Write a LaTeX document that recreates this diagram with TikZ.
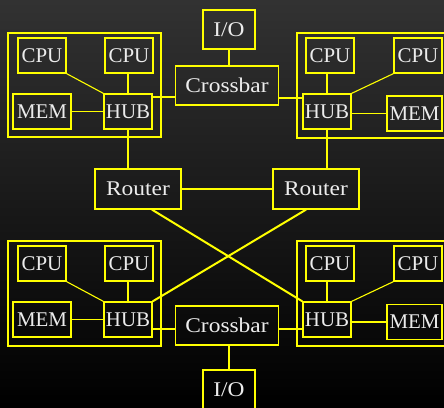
\documentclass[tikz,border=0pt]{standalone}
\usepackage{fontspec}
\setmainfont{Liberation Serif}
\newfontfamily\wideserif{Liberation Serif}[FakeStretch=1.12]
\usepackage{tikz}
\usetikzlibrary{
    positioning,
    calc
}
\definecolor{boY}{RGB}{255,255,0}
\definecolor{txtC}{RGB}{236,236,236}
\definecolor{bgTop}{RGB}{50,50,50}
\definecolor{bgBot}{RGB}{0,0,0}
\tikzset{
  unit/.style     = {draw=boY, line width=1.3bp, minimum width=48bp,
                     minimum height=35bp, inner sep=0pt, text=txtC,
                     font=\fontsize{21}{24}\selectfont},
  switchbox/.style = {draw=boY, line width=1.3bp, minimum height=39bp,
                     inner sep=0pt, text=txtC,
                     font=\wideserif\fontsize{21}{24}\selectfont},
  board/.style    = {draw=boY, line width=2.2bp},
  link/.style     = {draw=boY, line width=1.1bp},
  bus/.style      = {draw=boY, line width=2bp}
}

\begin{document}
\begin{tikzpicture}[x=1bp, y=-1bp]

  %% -- background ---------------------------------------------
  \useasboundingbox (0,0) rectangle (444,407);
  \shade[top color=bgTop, bottom color=bgBot] (0,0) rectangle (444,407);
  \clip (0,0) rectangle (444,407);

  %% -- boards ---------------------------------------------------
  \draw[board] (8,33)   rectangle (161,137);
  \draw[board] (297,33) rectangle (450,138);
  \draw[board] (8,241)  rectangle (161,346);
  \draw[board] (297,241) rectangle (450,346);

  %% -- top left node --------------------------------------------
  \node[unit] (cpuA) at (42,55.5)   {CPU};
  \node[unit] (cpuB) at (129,55.5)  {CPU};
  \node[unit, minimum width=58bp] (memA) at (42,111.5) {MEM};
  \node[unit] (hubA) at (128,111.5) {HUB};

  %% -- top right node -------------------------------------------
  \node[unit] (cpuC) at (330,55.5)  {CPU};
  \node[unit] (cpuD) at (418,55.5)  {CPU};
  \node[unit] (hubB) at (327,111.5) {HUB};
  \node[unit, minimum width=55bp] (memB) at (414.5,113.5) {MEM};

  %% -- bottom left node -----------------------------------------
  \node[unit] (cpuE) at (42,263.5)  {CPU};
  \node[unit] (cpuF) at (129,263.5) {CPU};
  \node[unit, minimum width=58bp] (memC) at (42,319.5) {MEM};
  \node[unit] (hubC) at (128,319.5) {HUB};

  %% -- bottom right node ----------------------------------------
  \node[unit] (cpuG) at (330,263.5) {CPU};
  \node[unit] (cpuH) at (418,263.5) {CPU};
  \node[unit] (hubD) at (327,319.5) {HUB};
  \node[unit, minimum width=55bp] (memD) at (414.5,322) {MEM};

  %% -- crossbars, I/O, routers ----------------------------------
  \node[switchbox, minimum width=103bp] (xbarT) at (227,85.5)  {Crossbar};
  \node[switchbox, minimum width=52bp]  (ioT)   at (229,29.5)  {I/O};
  \node[switchbox, minimum width=103bp] (xbarB) at (227,325.5) {Crossbar};
  \node[switchbox, minimum width=52bp]  (ioB)   at (229,389.5) {I/O};
  \node[switchbox, minimum width=86bp, minimum height=40bp] (routerL) at (138,189) {Router};
  \node[switchbox, minimum width=86bp, minimum height=40bp] (routerR) at (316,189) {Router};

  %% -- links inside the boards ----------------------------------
  \draw[link] (cpuA.south east) -- (hubA.north west);
  \draw[link] (hubA.north) -- (hubA.north |- cpuB.south);
  \draw[link] (memA.east) -- (memA.east -| hubA.west);
  \draw[link] (hubB.north) -- (hubB.north |- cpuC.south);
  \draw[link] (cpuD.south west) -- (hubB.north east);
  \draw[link] (hubB.east |- memB.west) -- (memB.west);

  \draw[link] (cpuE.south east) -- (hubC.north west);
  \draw[link] (hubC.north) -- (hubC.north |- cpuF.south);
  \draw[link] (memC.east) -- (memC.east -| hubC.west);
  \draw[link] (hubD.north) -- (hubD.north |- cpuG.south);
  \draw[link] (cpuH.south west) -- (hubD.north east);
  \draw[link] (hubD.east |- memD.west) -- (memD.west);

  %% -- hubs to crossbars ----------------------------------------
  \coordinate (tA) at ([yshift=14.5bp]hubA.east);
  \coordinate (tB) at ([yshift=13.5bp]hubB.west);
  \coordinate (tC) at ([yshift=-9bp]hubC.east);
  \coordinate (tD) at ([yshift=-9bp]hubD.west);
  \draw[bus] (tA) -- (tA -| xbarT.west);
  \draw[bus] (tB) -- (tB -| xbarT.east);
  \draw[bus] (tC) -- (tC -| xbarB.west);
  \draw[bus] (tD) -- (tD -| xbarB.east);

  %% -- crossbars to I/O -----------------------------------------
  \draw[link] (ioT.south) -- (ioT.south |- xbarT.north);
  \draw[link] (ioB.north) -- (ioB.north |- xbarB.south);

  %% -- hubs to routers ------------------------------------------
  \draw[bus] (hubA.south) -- (hubA.south |- routerL.north);
  \draw[bus] (hubB.south) -- (hubB.south |- routerR.north);
  \draw[link] (routerL.east) -- (routerR.west);
  \draw[bus] ([xshift=14bp]routerL.south) -- (hubD.north west);
  \draw[bus] ([xshift=-10bp]routerR.south) -- (hubC.north east);

\end{tikzpicture}
\end{document}
